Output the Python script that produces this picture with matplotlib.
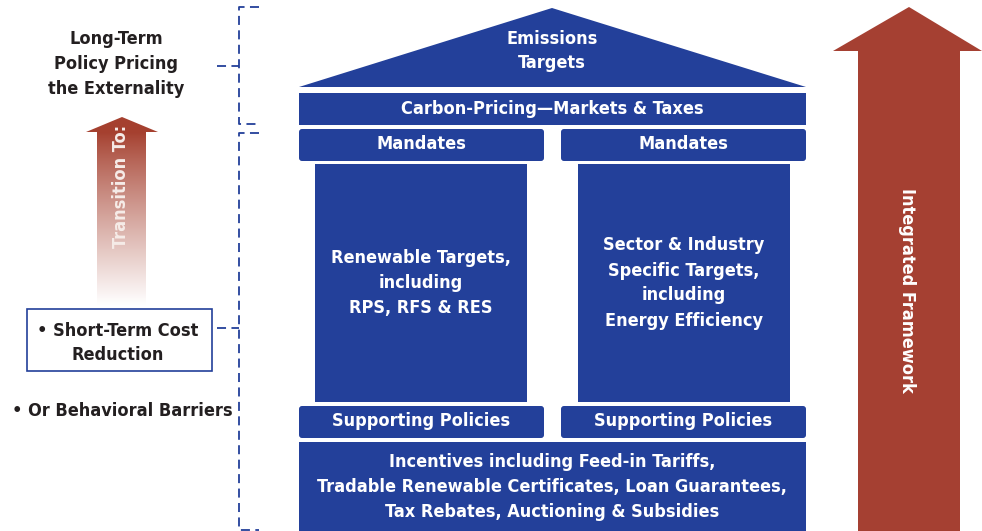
import numpy as np
import matplotlib
matplotlib.use("Agg")
import matplotlib.pyplot as plt
from matplotlib import font_manager
from matplotlib.patches import Polygon, Rectangle, FancyBboxPatch

# Policy "house" diagram: roof = targets, pillars = mandates, base = incentives
BLUE = "#23409A"
RED = "#A54032"
DARK = "#231F20"

roof_text = "Emissions\nTargets"
beam_text = "Carbon-Pricing\u2014Markets & Taxes"
mandate_labels = ["Mandates", "Mandates"]
pillar_labels = ["Renewable Targets,\nincluding\nRPS, RFS & RES",
                 "Sector & Industry\nSpecific Targets,\nincluding\nEnergy Efficiency"]
support_labels = ["Supporting Policies", "Supporting Policies"]
base_text = ("Incentives including Feed-in Tariffs,\n"
             "Tradable Renewable Certificates, Loan Guarantees,\n"
             "Tax Rebates, Auctioning & Subsidies")
long_term_text = "Long-Term\nPolicy Pricing\nthe Externality"
short_term_text = "\u2022 Short-Term Cost\nReduction"
barrier_text = "\u2022 Or Behavioral Barriers"
transition_text = "Transition To:"
framework_text = "Integrated Framework"

# look for a condensed bold face, otherwise fall back to plain DejaVu Sans bold
cond = [f for f in font_manager.fontManager.ttflist
        if "Condensed" in f.fname and "Bold" in f.fname and "Oblique" not in f.fname]
FNAME = cond[0].fname if cond else None
SIZE = 13

W, H = 982, 531
fig = plt.figure(figsize=(W / 100, H / 100), dpi=100)
ax = fig.add_axes([0, 0, 1, 1])
ax.set_xlim(0, W)
ax.set_ylim(H, 0)
ax.axis("off")


def label(x, y, s, color="white", size=SIZE, **kw):
    if FNAME:
        fp = font_manager.FontProperties(fname=FNAME, size=size)
    else:
        fp = font_manager.FontProperties(family="DejaVu Sans", weight="bold", size=size - 1)
    ax.text(x, y, s, color=color, fontproperties=fp,
            ha=kw.pop("ha", "center"), va="center", linespacing=1.5, **kw)


def box(x0, y0, x1, y1, rounded=False):
    if rounded:
        p = FancyBboxPatch((x0, y0), x1 - x0, y1 - y0,
                           boxstyle="round,pad=0,rounding_size=3",
                           fc=BLUE, ec="none")
    else:
        p = Rectangle((x0, y0), x1 - x0, y1 - y0, fc=BLUE, ec="none")
    ax.add_patch(p)


# roof
ax.add_patch(Polygon([(299, 87), (552, 8), (806, 87)], closed=True, fc=BLUE, ec="none"))
label(552, 51, roof_text)

# beam
box(299, 93, 806, 125)
label(552, 109, beam_text)

# mandates, pillars, supporting policies
cols = [(299, 544, 315, 527), (561, 806, 578, 790)]
for i, (mx0, mx1, px0, px1) in enumerate(cols):
    cx = (mx0 + mx1) / 2
    box(mx0, 129, mx1, 161, rounded=True)
    label(cx, 144, mandate_labels[i])
    box(px0, 164, px1, 402)
    label((px0 + px1) / 2, 283, pillar_labels[i])
    box(mx0, 406, mx1, 438, rounded=True)
    label(cx, 421, support_labels[i])

# base
box(299, 442, 806, 531)
label(552, 487, base_text)

# right arrow
ax.add_patch(Polygon([(858, 531), (858, 51), (833, 51), (909, 7), (982, 51),
                      (960, 51), (960, 531)], closed=True, fc=RED, ec="none"))
label(907, 290, framework_text, rotation=270)

# left gradient arrow
arrow = Polygon([(97, 305), (97, 132), (86, 132), (122, 117), (158, 132),
                 (146, 132), (146, 305)], closed=True, fc="none", ec="none")
ax.add_patch(arrow)
top = np.array([165, 64, 47]) / 255
t = np.linspace(0, 1, 200)[:, None]
t = np.clip((t - 0.08) / 0.92, 0, 1) ** 0.9
grad = top[None, :] * (1 - t) + np.ones(3)[None, :] * t
grad = grad[:, None, :]
im = ax.imshow(grad, extent=[86, 158, 305, 117], aspect="auto", zorder=1)
im.set_clip_path(arrow)
label(121, 186, transition_text, color="#F6ECE8", rotation=90)

# left texts
label(116, 64, long_term_text, color=DARK)
ax.add_patch(Rectangle((27, 309), 185, 62, fc="white", ec=BLUE, lw=1.2))
label(118, 343, short_term_text, color=DARK)
label(12, 411, barrier_text, color=DARK, ha="left")

# dashed brackets
dash = dict(color=BLUE, lw=1.3, ls=(0, (5, 3)))
ax.plot([259, 239, 239, 259], [7, 7, 124, 124], **dash)
ax.plot([217, 239], [66, 66], **dash)
ax.plot([259, 239, 239, 259], [133, 133, 530, 530], **dash)
ax.plot([217, 239], [328, 328], **dash)

fig.savefig("out.png", dpi=100)
